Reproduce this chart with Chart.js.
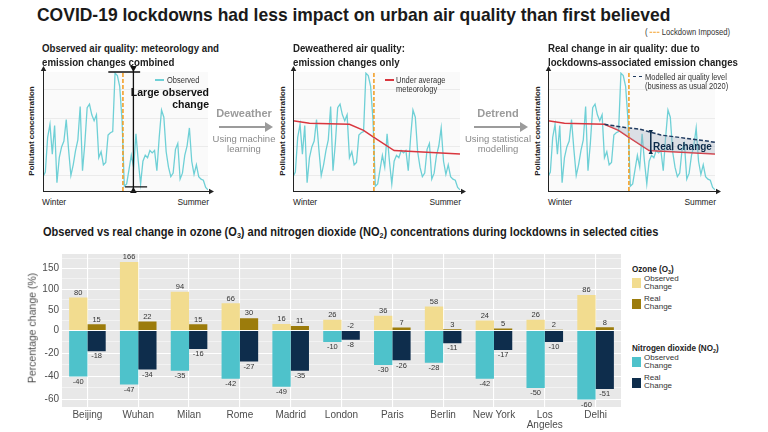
<!DOCTYPE html>
<html>
<head>
<meta charset="utf-8">
<script src="https://cdn.jsdelivr.net/npm/chart.js@4.4.1/dist/chart.umd.min.js"></script>
<style>
body{margin:0;background:#fff;}
#wrap{position:relative;width:768px;height:432px;overflow:hidden;font-family:"Liberation Sans",Arial,sans-serif;color:#222;}
.t{position:absolute;z-index:2;white-space:nowrap;line-height:1;transform:translateY(-50%);}
.r{transform:translate(-100%,-50%);}
.c{transform:translate(-50%,-50%);}
.v{transform:translate(-50%,-50%) rotate(-90deg);}
.b{font-weight:bold;}
.nar{transform-origin:0 50%;transform:translateY(-50%) scaleX(var(--sx,0.88));}
.nar.r{transform-origin:100% 50%;transform:translate(-100%,-50%) scaleX(var(--sx,0.88));}
.gray{color:#9b9b9b;}
.sw{position:absolute;z-index:2;width:9px;height:10px;}
.key{position:absolute;z-index:2;width:9px;}
canvas{position:absolute;z-index:1;}
sub{font-size:65%;vertical-align:-2px;line-height:0;}
</style>
</head>
<body>
<div id="wrap">
  <div class="t nar b" style="left:37px;top:14px;font-size:19px;--sx:0.92;color:#1a1a1a">COVID-19 lockdowns had less impact on urban air quality than first believed</div>
  <div class="t nar" style="left:645px;top:32px;font-size:8.5px;--sx:0.9;color:#333">( <span style="display:inline-block;width:11px;border-top:1.5px dashed #f29b1d;vertical-align:middle"></span> Lockdown Imposed)</div>

  <!-- panel titles -->
  <div class="t nar b" style="left:42px;top:48px;font-size:11px">Observed air quality: meteorology and</div>
  <div class="t nar b" style="left:42px;top:62px;font-size:11px">emission changes combined</div>
  <div class="t nar b" style="left:293px;top:48px;font-size:11px">Deweathered air quality:</div>
  <div class="t nar b" style="left:293px;top:62px;font-size:11px">emission changes only</div>
  <div class="t nar b" style="left:548px;top:48px;font-size:11px">Real change in air quality: due to</div>
  <div class="t nar b" style="left:548px;top:62px;font-size:11px">lockdowns-associated emission changes</div>

  <!-- axis names of the panels -->
  <div class="t v b" style="left:32px;top:131px;font-size:8px">Pollutant concentration</div>
  <div class="t v b" style="left:283px;top:131px;font-size:8px">Pollutant concentration</div>
  <div class="t v b" style="left:538px;top:131px;font-size:8px">Pollutant concentration</div>
  <div class="t nar" style="left:42px;top:202px;font-size:9.5px">Winter</div>
  <div class="t nar r" style="left:209px;top:202px;font-size:9.5px">Summer</div>
  <div class="t nar" style="left:293px;top:202px;font-size:9.5px">Winter</div>
  <div class="t nar r" style="left:461px;top:202px;font-size:9.5px">Summer</div>
  <div class="t nar" style="left:548px;top:202px;font-size:9.5px">Winter</div>
  <div class="t nar r" style="left:716px;top:202px;font-size:9.5px">Summer</div>

  <!-- panel legends / notes -->
  <div class="key" style="left:155px;top:79px;height:1.5px;background:#6fd0d6"></div>
  <div class="t nar" style="left:167px;top:80px;font-size:8.5px;color:#333">Observed</div>
  <div class="t b r" style="left:209px;top:92px;font-size:10.5px;color:#111">Large observed</div>
  <div class="t b r" style="left:209px;top:104px;font-size:10.5px;color:#111">change</div>

  <div class="key" style="left:385px;top:79px;height:1.5px;background:#d9363e"></div>
  <div class="t nar" style="left:396px;top:80px;font-size:8.5px;color:#333">Under average</div>
  <div class="t nar" style="left:396px;top:89px;font-size:8.5px;color:#333">meteorology</div>

  <div class="key" style="left:633px;top:76px;border-top:1.5px dashed #1f3a5f"></div>
  <div class="t nar" style="left:645px;top:77px;font-size:8.5px;color:#333">Modelled air quality level</div>
  <div class="t nar" style="left:645px;top:86px;font-size:8.5px;color:#333">(business as usual 2020)</div>
  <div class="t b" style="left:653px;top:147px;font-size:10px;color:#0d2b4a">Real change</div>

  <!-- arrows between panels -->
  <div class="t b c gray" style="left:244px;top:113px;font-size:11px">Deweather</div>
  <div class="t c" style="left:244px;top:139px;font-size:9.5px;color:#8a8a8a">Using machine</div>
  <div class="t c" style="left:244px;top:149px;font-size:9.5px;color:#8a8a8a">learning</div>
  <div class="t b c gray" style="left:498px;top:113px;font-size:11px">Detrend</div>
  <div class="t c" style="left:498px;top:139px;font-size:9.5px;color:#8a8a8a">Using statistical</div>
  <div class="t c" style="left:498px;top:149px;font-size:9.5px;color:#8a8a8a">modelling</div>
  <svg style="position:absolute;left:0;top:0" width="768" height="200">
    <line x1="219" y1="127" x2="266" y2="127" stroke="#9b9b9b" stroke-width="2"/>
    <polygon points="265,122 273,127 265,132" fill="#9b9b9b"/>
    <line x1="474" y1="127" x2="521" y2="127" stroke="#9b9b9b" stroke-width="2"/>
    <polygon points="520,122 528,127 520,132" fill="#9b9b9b"/>
  </svg>

  <canvas id="p1" width="180" height="132" style="left:36px;top:64px"></canvas>
  <canvas id="p2" width="181" height="132" style="left:287px;top:64px"></canvas>
  <canvas id="p3" width="181" height="132" style="left:542px;top:64px"></canvas>

  <!-- bar chart -->
  <div class="t nar b" style="left:43px;top:232px;font-size:12px;--sx:0.92;color:#1a1a1a">Observed vs real change in ozone (O<sub>3</sub>) and nitrogen dioxide (NO<sub>2</sub>) concentrations during lockdowns in selected cities</div>
  <div class="t v" style="left:32px;top:328px;font-size:10.5px;color:#4d4d4d">Percentage change (%)</div>
  <canvas id="bars" width="595" height="190" style="left:30px;top:245px"></canvas>

  <div class="t b nar" style="left:632px;top:269px;font-size:9px;--sx:0.9;color:#222">Ozone (O<sub>3</sub>)</div>
  <div class="sw" style="left:632px;top:278px;background:#f2dc8f"></div>
  <div class="t" style="left:644px;top:279px;font-size:8px;color:#333">Observed</div>
  <div class="t" style="left:644px;top:287px;font-size:8px;color:#333">Change</div>
  <div class="sw" style="left:632px;top:299px;background:#9c7c0c"></div>
  <div class="t" style="left:644px;top:299px;font-size:8px;color:#333">Real</div>
  <div class="t" style="left:644px;top:307px;font-size:8px;color:#333">Change</div>
  <div class="t b nar" style="left:632px;top:348px;font-size:9px;--sx:0.9;color:#222">Nitrogen dioxide (NO<sub>2</sub>)</div>
  <div class="sw" style="left:632px;top:357px;background:#4ec2cb"></div>
  <div class="t" style="left:644px;top:358px;font-size:8px;color:#333">Observed</div>
  <div class="t" style="left:644px;top:366px;font-size:8px;color:#333">Change</div>
  <div class="sw" style="left:632px;top:378px;background:#0e2d4c"></div>
  <div class="t" style="left:644px;top:378px;font-size:8px;color:#333">Real</div>
  <div class="t" style="left:644px;top:386px;font-size:8px;color:#333">Change</div>
</div>

<script>
// ---- schematic panels (0 = axis, 100 = top of panel), x = sample number
const observed = [12,16,45,56,31,55,7,28,37,42, 60,35,13,22,34,43,71,17,40,70,
  73,64,59,64,28,33,22,24,47,49, 50,99,97,88,60,4,6,18,30,20,
  48,25,6,25,30,28,34,32,34,17, 45,68,62,33,20,12,15,35,40,10,
  15,30,38,53,25,14,22,12,10,9, 3,1];
const lockdownAt = 34.4;
const deweatherX = [0, 7, 24, 30, 34.4, 43, 71];
const deweatherY = [59, 57, 56, 51, 45, 34, 31];
const modelledX = [24, 34, 39, 48, 60, 71];
const modelledY = [56, 53, 52, 47, 44, 41];
const panelGrid = [13, 37, 61, 85];

// ---- bar chart
const cities = ['Beijing','Wuhan','Milan','Rome','Madrid','London','Paris','Berlin','New York',['Los','Angeles'],'Delhi'];
const o3Observed = [80,166,94,66,16,26,36,58,24,26,86];
const o3Real = [15,22,15,30,11,-2,7,3,5,2,8];
const no2Observed = [-40,-47,-35,-42,-49,-10,-30,-28,-42,-50,-60];
const no2Real = [-18,-34,-16,-27,-35,-8,-26,-11,-17,-10,-51];
const posTicks = [0,25,50,75,100,125,150,175];
const negTicks = [-60,-50,-40,-30,-20,-10,0];

const xy = (xs, ys) => xs.map((x, i) => ({x: x, y: ys[i]}));
const observedPts = observed.map((v, i) => ({x: i, y: v}));
const lockdownPts = [{x: lockdownAt, y: 0}, {x: lockdownAt, y: 100}];

function arrowHead(ctx, x, y, dx, dy, size){
  const len = Math.hypot(dx, dy);
  const ux = dx / len, uy = dy / len;
  ctx.beginPath();
  ctx.moveTo(x, y);
  ctx.lineTo(x - ux * size - uy * size * 0.55, y - uy * size + ux * size * 0.55);
  ctx.lineTo(x - ux * size + uy * size * 0.55, y - uy * size - ux * size * 0.55);
  ctx.closePath();
  ctx.fill();
}

const panelFrame = {
  id: 'panelFrame',
  beforeDraw(chart){
    const {ctx, chartArea: a} = chart;
    ctx.save();
    ctx.fillStyle = '#fafafa';
    ctx.fillRect(a.left, a.top, a.right - a.left, a.bottom - a.top);
    ctx.restore();
  },
  afterDraw(chart){
    const {ctx, chartArea: a} = chart;
    ctx.save();
    ctx.strokeStyle = '#222';
    ctx.fillStyle = '#222';
    ctx.lineWidth = 1;
    ctx.beginPath();
    ctx.moveTo(a.left + 0.5, a.bottom);
    ctx.lineTo(a.left + 0.5, a.top - 2);
    ctx.moveTo(a.left, a.bottom + 0.5);
    ctx.lineTo(a.right + 2, a.bottom + 0.5);
    ctx.stroke();
    arrowHead(ctx, a.left + 0.5, a.top - 6, 0, -1, 5);
    arrowHead(ctx, a.right + 6, a.bottom + 0.5, 1, 0, 5);
    ctx.restore();
  }
};

// double arrow with end bars, in data units of the panel
function doubleArrow(id, o){
  return {
    id: id,
    afterDatasetsDraw(chart){
      const {ctx, scales: {x, y}} = chart;
      const px = x.getPixelForValue(o.at);
      const y1 = y.getPixelForValue(o.from), y2 = y.getPixelForValue(o.to);
      ctx.save();
      ctx.strokeStyle = o.color;
      ctx.fillStyle = o.color;
      ctx.lineWidth = o.width;
      ctx.beginPath();
      ctx.moveTo(px, y1 - 4);
      ctx.lineTo(px, y2 + 4);
      if (o.caps){
        ctx.moveTo(x.getPixelForValue(o.caps[0][0]), y1);
        ctx.lineTo(x.getPixelForValue(o.caps[0][1]), y1);
        ctx.moveTo(x.getPixelForValue(o.caps[1][0]), y2);
        ctx.lineTo(x.getPixelForValue(o.caps[1][1]), y2);
      }
      ctx.stroke();
      arrowHead(ctx, px, y1, 0, 1, o.head);
      arrowHead(ctx, px, y2, 0, -1, o.head);
      ctx.restore();
    }
  };
}

const cyanSet = () => ({data: observedPts, borderColor: '#6fd0d6', borderWidth: 1.3, order: 5});
const lockSet = () => ({data: lockdownPts, borderColor: '#f29b1d', borderWidth: 1.5, borderDash: [4, 2], order: 1});
const redSet = () => ({data: xy(deweatherX, deweatherY), borderColor: '#d9363e', borderWidth: 1.5, order: 3});

function panelChart(id, datasets, padLeft, extra){
  return new Chart(document.getElementById(id), {
    type: 'line',
    data: {datasets: datasets},
    options: {
      animation: false,
      responsive: false,
      layout: {padding: {left: padLeft, right: 8, top: 8, bottom: 5}},
      plugins: {legend: {display: false}, tooltip: {enabled: false}},
      elements: {point: {radius: 0}, line: {tension: 0}},
      scales: {
        x: {type: 'linear', min: 0, max: 71, display: false},
        y: {
          min: 0, max: 100,
          border: {display: false},
          ticks: {display: false},
          grid: {color: '#ebebeb', drawTicks: false},
          afterBuildTicks: s => { s.ticks = panelGrid.map(v => ({value: v})); },
          afterFit: s => { s.width = 0; }
        }
      }
    },
    plugins: [panelFrame].concat(extra)
  });
}

panelChart('p1', [cyanSet(), lockSet()], 7, [
  doubleArrow('bigArrow', {at: 38.9, from: 100, to: 3.4, color: '#111', width: 1.3, head: 6,
    caps: [[28.1, 41.8], [35.3, 44.8]]})
]);
panelChart('p2', [redSet(), cyanSet(), lockSet()], 6, []);
panelChart('p3', [
  redSet(),
  {data: xy(modelledX, modelledY), borderColor: '#1f3a5f', borderWidth: 1.5, borderDash: [4, 2],
   fill: {target: 0}, backgroundColor: 'rgba(160,172,190,0.35)', order: 2},
  cyanSet(), lockSet()
], 6, [
  doubleArrow('realArrow', {at: 43.7, from: 48, to: 34.5, color: '#0d2b4a', width: 1.5, head: 4})
]);

// ---- bar chart
const tickFont = {family: '"Liberation Sans", Arial, sans-serif', size: 10};

const plotBg = {
  id: 'plotBg',
  beforeDraw(chart){
    const {ctx, chartArea: a} = chart;
    ctx.save();
    ctx.fillStyle = '#e8e8e8';
    ctx.fillRect(a.left, a.top, a.right - a.left, a.bottom - a.top);
    ctx.restore();
  },
  // the shared 0 sits on the seam of the two stacked axes and gets lost there
  afterDraw(chart){
    const s = chart.scales.yPos;
    const ctx = chart.ctx;
    ctx.save();
    ctx.font = tickFont.size + 'px ' + tickFont.family;
    ctx.fillStyle = '#4d4d4d';
    ctx.textAlign = 'right';
    ctx.textBaseline = 'middle';
    ctx.fillText('0', s.right - 3, s.getPixelForValue(0));
    ctx.restore();
  }
};

const barLabels = {
  id: 'barLabels',
  afterDatasetsDraw(chart){
    const ctx = chart.ctx;
    ctx.save();
    ctx.font = '7.5px "Liberation Sans", Arial, sans-serif';
    ctx.fillStyle = '#333';
    ctx.textAlign = 'center';
    chart.data.datasets.forEach((ds, i) => {
      const up = ds.yAxisID === 'yPos';
      chart.getDatasetMeta(i).data.forEach((bar, j) => {
        if (up){
          ctx.textBaseline = 'bottom';
          ctx.fillText(ds.data[j], bar.x, Math.min(bar.y, bar.base) - 1);
        } else {
          ctx.textBaseline = 'top';
          ctx.fillText(ds.data[j], bar.x, Math.max(bar.y, bar.base) + 1.5);
        }
      });
    });
    ctx.restore();
  }
};

new Chart(document.getElementById('bars'), {
  type: 'bar',
  data: {
    labels: cities,
    datasets: [
      {label: 'Ozone observed', data: o3Observed, backgroundColor: '#f2dc8f', yAxisID: 'yPos', stack: 'obs'},
      {label: 'Ozone real', data: o3Real, backgroundColor: '#9c7c0c', yAxisID: 'yPos', stack: 'real'},
      {label: 'NO2 observed', data: no2Observed, backgroundColor: '#4ec2cb', yAxisID: 'yNeg', stack: 'obs'},
      {label: 'NO2 real', data: no2Real, backgroundColor: '#0e2d4c', yAxisID: 'yNeg', stack: 'real'}
    ]
  },
  options: {
    animation: false,
    responsive: false,
    layout: {padding: {left: 0, right: 4, top: 7, bottom: 0}},
    plugins: {legend: {display: false}, tooltip: {enabled: false}},
    datasets: {bar: {categoryPercentage: 0.72, barPercentage: 1}},
    scales: {
      x: {
        type: 'category',
        grid: {offset: false, color: '#fff', lineWidth: 1.1, drawTicks: false},
        border: {display: false},
        ticks: {font: Object.assign({lineHeight: 1}, tickFont), color: '#4d4d4d', padding: 3, maxRotation: 0, autoSkip: false},
        afterFit: s => { s.height = 28; }
      },
      yNeg: {
        type: 'linear', position: 'left', stack: 'y', stackWeight: 1,
        min: -66.6, max: 0,
        border: {display: false},
        grid: {color: '#fff', drawTicks: false, lineWidth: c => (c.tick && c.tick.value % 20 === 0) ? 1.1 : 0.5},
        ticks: {font: tickFont, color: '#4d4d4d', padding: 3, autoSkip: false,
          callback: v => (v % 20 === 0 && v !== 0) ? String(v) : ''},
        afterBuildTicks: s => { s.ticks = negTicks.map(v => ({value: v})); },
        afterFit: s => { s.width = 32; }
      },
      yPos: {
        type: 'linear', position: 'left', stack: 'y', stackWeight: 1,
        min: 0, max: 185.6,
        border: {display: false},
        grid: {color: '#fff', drawTicks: false, lineWidth: c => (c.tick && c.tick.value % 50 === 0) ? 1.1 : 0.5},
        ticks: {font: tickFont, color: '#4d4d4d', padding: 3, autoSkip: false,
          callback: v => (v % 50 === 0 && v !== 0) ? String(v) : ''},
        afterBuildTicks: s => { s.ticks = posTicks.map(v => ({value: v})); },
        afterFit: s => { s.width = 32; }
      }
    }
  },
  plugins: [plotBg, barLabels]
});
</script>
</body>
</html>
